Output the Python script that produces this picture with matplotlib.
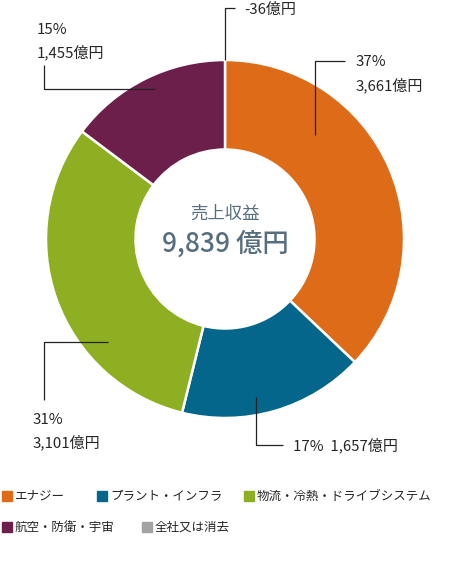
import matplotlib.pyplot as plt
import numpy as np

plt.rcParams['font.family'] = ['Noto Sans CJK JP', 'DejaVu Sans']

# 売上収益 セグメント別（億円）
segments = ['エナジー', 'プラント・インフラ', '物流・冷熱・ドライブシステム', '航空・防衛・宇宙', '全社又は消去']
values = [3661, 1657, 3101, 1455, -36]
shares = ['37%', '17%', '31%', '15%', '']
colors = ['#DD6B17', '#04668A', '#8FAF23', '#6C1F4B', '#A3A3A3']
total_label = '9,839 億円'

W, H = 450, 566
fig = plt.figure(figsize=(W / 100, H / 100), dpi=100)
ax = fig.add_axes([0, 0, 1, 1])

def Y(y):
    return H - y

cx, cy, R = 225, Y(239), 179
pos_vals = [v for v in values if v > 0]
ax.pie(pos_vals, colors=colors[:len(pos_vals)], startangle=90, counterclock=False,
       center=(cx, cy), radius=R, frame=True,
       wedgeprops=dict(width=R * 0.5, edgecolor='white', linewidth=1.8))
ax.set_xlim(0, W)
ax.set_ylim(0, H)
ax.set_aspect('equal')
ax.axis('off')

ax.text(cx, Y(214), '売上収益', ha='center', va='center', fontsize=12.5, color='#566E7D')
ax.text(cx, Y(244), total_label, ha='center', va='center', fontsize=19, color='#566E7D',
        fontweight='medium')

lc = '#222222'
tc = '#262626'
fs = 10.8

def leader(pts):
    xs, ys = zip(*pts)
    ax.plot(xs, [Y(y) for y in ys], color=lc, lw=0.9, solid_capstyle='butt')

def fmt(v):
    return f'{v:,}億円'

# 全社又は消去
leader([(225, 60), (225, 8), (235, 8)])
ax.text(244, Y(10), fmt(values[4]), ha='left', va='center', fontsize=fs, color=tc)
# エナジー
leader([(315, 135), (315, 61), (345, 61)])
ax.text(356, Y(62), shares[0], ha='left', va='center', fontsize=fs, color=tc)
ax.text(356, Y(85), fmt(values[0]), ha='left', va='center', fontsize=fs, color=tc)
# 航空・防衛・宇宙
leader([(155, 89), (44, 89), (44, 65)])
ax.text(37, Y(30), shares[3], ha='left', va='center', fontsize=fs, color=tc)
ax.text(37, Y(52), fmt(values[3]), ha='left', va='center', fontsize=fs, color=tc)
# 物流・冷熱・ドライブシステム
leader([(108, 342), (44, 342), (44, 400)])
ax.text(33, Y(420), shares[2], ha='left', va='center', fontsize=fs, color=tc)
ax.text(33, Y(442), fmt(values[2]), ha='left', va='center', fontsize=fs, color=tc)
# プラント・インフラ
leader([(256, 397), (256, 445), (283, 445)])
ax.text(293, Y(445), f'{shares[1]}  {fmt(values[1])}', ha='left', va='center', fontsize=fs, color=tc)

# 凡例
legend_pos = [(2, 496), (97, 496), (244, 496), (2, 527), (142, 527)]
for (x, y), name, c in zip(legend_pos, segments, colors):
    ax.add_patch(plt.Rectangle((x, Y(y) - 5), 10, 10, color=c))
    ax.text(x + 13, Y(y), name, ha='left', va='center', fontsize=9, color=tc)

fig.savefig('out.png', dpi=100)
